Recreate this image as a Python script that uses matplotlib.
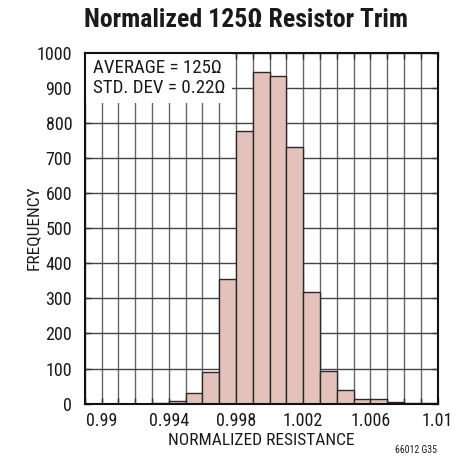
import matplotlib
matplotlib.use("Agg")
import matplotlib.pyplot as plt
from matplotlib import font_manager
from matplotlib.patches import Rectangle

# ---- data ----
bin_starts = [0.989, 0.990, 0.991, 0.992, 0.993, 0.994, 0.995, 0.996, 0.997, 0.998,
              0.999, 1.000, 1.001, 1.002, 1.003, 1.004, 1.005, 1.006, 1.007, 1.008, 1.009]
counts = [0, 0, 0, 0, 3, 7, 30, 91, 354, 777, 944, 934, 732, 319, 92, 39, 14, 14, 5, 2, 2]
bin_width = 0.001
x_ticks = [0.99, 0.994, 0.998, 1.002, 1.006, 1.01]
x_tick_labels = ["0.99", "0.994", "0.998", "1.002", "1.006", "1.01"]
y_ticks = [0, 100, 200, 300, 400, 500, 600, 700, 800, 900, 1000]
title = "Normalized 125\u03a9 Resistor Trim"
stats_lines = ["AVERAGE = 125\u03a9", "STD. DEV = 0.22\u03a9"]

available = {f.name for f in font_manager.fontManager.ttflist}
fam = [f for f in ["Liberation Sans Narrow", "DejaVu Sans Condensed", "Roboto Condensed",
                   "Liberation Sans", "DejaVu Sans"] if f in available]
plt.rcParams['font.family'] = fam + ["DejaVu Sans"]

W, H = 465, 471
fig = plt.figure(figsize=(W / 100, H / 100), dpi=100)
L, R, T, B = 84.7, 437.7, 52.7, 403.7
ax = fig.add_axes([L / W, 1 - B / H, (R - L) / W, (B - T) / H])

ax.set_xlim(0.989, 1.010)
ax.set_ylim(0, 1000)

# grid
ax.set_axisbelow(True)
ax.set_xticks(bin_starts + [1.010], minor=True)
ax.set_xticks(x_ticks)
ax.set_xticklabels(x_tick_labels)
ax.set_yticks(y_ticks)
ax.grid(True, which='both', axis='x', color='#666666', linewidth=1.0, zorder=0)
ax.grid(True, which='major', axis='y', color='#444444', linewidth=1.0, zorder=0)

ax.bar(bin_starts, counts, width=bin_width, align='edge', color='#e4c1bb',
       edgecolor='#2a2a2a', linewidth=1.0, zorder=2)

# white box behind stats text
ax.add_patch(Rectangle((0.0, 0.857), 0.418, 0.15, transform=ax.transAxes,
                       facecolor='white', edgecolor='none', zorder=3))
ax.text(0.0227, 0.9413, stats_lines[0], transform=ax.transAxes, fontsize=13.6,
        va='baseline', ha='left', color='#1a1a1a', zorder=4)
ax.text(0.0227, 0.886, stats_lines[1], transform=ax.transAxes, fontsize=13.6,
        va='baseline', ha='left', color='#1a1a1a', zorder=4)

for s in ax.spines.values():
    s.set_linewidth(1.5)
    s.set_color('#111111')
    s.set_zorder(6)

ax.tick_params(which='both', direction='in', length=4, width=1.0, color='#333333',
               top=True, right=True, labelsize=13, labelcolor='#1a1a1a')
ax.tick_params(axis='y', pad=9)
ax.tick_params(axis='x', pad=6)
for t in ax.xaxis.get_major_ticks() + ax.xaxis.get_minor_ticks() + ax.yaxis.get_major_ticks():
    t.tick1line.set_zorder(5)
    t.tick2line.set_zorder(5)

ax.set_ylabel("FREQUENCY", fontsize=12.5, color='#1a1a1a')
ax.set_xlabel("NORMALIZED RESISTANCE", fontsize=12.5, color='#1a1a1a')
ax.yaxis.set_label_coords((41 - L) / (R - L), 0.5)
ax.xaxis.set_label_coords(0.5, (B - 433) / (B - T))

fig.text(246 / W, 1 - 20 / H, title, fontsize=18.5, fontweight='bold', ha='center',
         va='center', color='#1a1a1a')
fig.text(437 / W, 1 - 450 / H, "66012 G35", fontsize=7, ha='right', va='center',
         color='#1a1a1a')

fig.savefig("out.png", dpi=100)
